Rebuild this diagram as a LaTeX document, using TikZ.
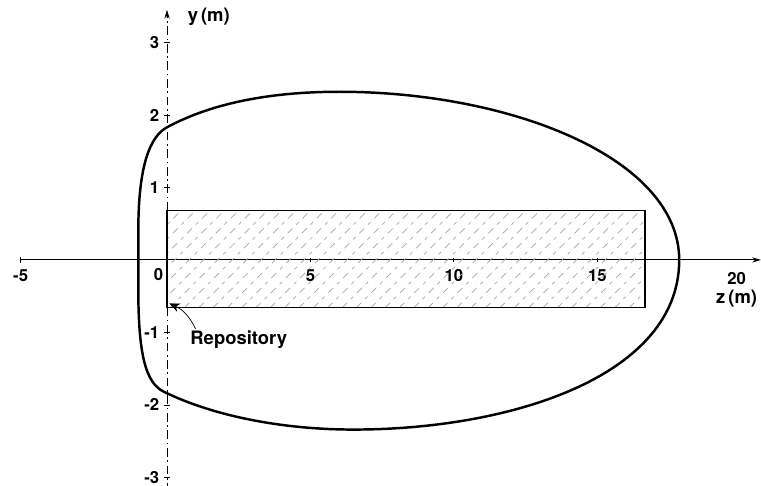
\documentclass[tikz,border=0pt]{standalone}
\usepackage{fontspec}
\setmainfont{TeX Gyre Heros}
\usetikzlibrary{arrows.meta, positioning}

\begin{document}
\begin{tikzpicture}[x=0.574cm, y=1.45cm,
  ticklbl/.style={font=\bfseries\fontsize{9.5}{10}\selectfont, inner sep=1pt},
  axislbl/.style={font=\bfseries\fontsize{10.5}{11}\selectfont, inner sep=1pt},
  hatch/.style={gray!70, thin, dash pattern=on 4pt off 3pt on 2pt off 3pt}]
  \useasboundingbox (-5.82,-3.117) rectangle (20.70,3.586);
  % Axes
  \coordinate (zstart) at (-5.1,0);
  \coordinate (zend) at (20.7,0);
  \coordinate (ybot) at (0,-3.2);
  \coordinate (ytop) at (0,3.45);
  \draw[semithick, -{Stealth[length=5pt,width=3pt]}] (zstart) -- (zend);
  \draw[semithick] (zstart) ++(0,-0.04) -- ++(0,0.08);
  \draw[thin, dash pattern=on 5pt off 2pt on 1pt off 2pt, -{Stealth[length=5pt,width=3pt]}] (ybot) -- (ytop);
  % Ticks and labels on z
  \foreach \z in {5,10,15} {
    \draw[semithick] (\z,-0.03) -- (\z,0.03);
  }
  \node[ticklbl] (zm5) at (-5.1,-0.22) {-5};
  \node[ticklbl] (z0) at (-0.3,-0.2) {0};
  \node[ticklbl] (z5) at (5,-0.22) {5};
  \node[ticklbl] (z10) at (10,-0.22) {10};
  \node[ticklbl] (z15) at (15,-0.22) {15};
  \node[ticklbl] (z20) at (19.85,-0.25) {20};
  \node[axislbl, below=1pt of z20] (zname) {z\,(m)};
  % Ticks and labels on y
  \foreach \y in {-3,-2,-1,1,2,3} {
    \draw[thin] (-0.12,\y) -- (0.12,\y);
    \node[ticklbl, left] (y\y) at (-0.2,\y) {\y};
  }
  \node[axislbl, right] (yname) at (0.65,3.35) {y\,(m)};
  % Repository
  \begin{scope}
    \clip (0,-0.66) rectangle (16.66,0.68);
    \foreach \s in {-3.4,-2.9,...,16.6} {
      \draw[hatch] (\s,-0.66) -- ++(3.39,1.34);
    }
  \end{scope}
  \draw[thick] (0,-0.66) rectangle (16.66,0.68);
  \coordinate (corner) at (0.08,-0.6);
  \node[axislbl] (repo) at (2.5,-1.1) {Repository};
  \draw[thin, -{Stealth[length=6pt,width=5pt]}] (repo.north west) ++(0.25,0) to[bend right=20] (corner);
  % Contour
  \draw[line width=1.4pt] (0,1.83)
    .. controls (1.5,2.15) and (3.5,2.32) .. (6,2.32)
    .. controls (12,2.32) and (17.85,1.4) .. (17.85,0)
    .. controls (17.85,-1.6) and (12,-2.34) .. (6.5,-2.34)
    .. controls (4,-2.34) and (1.6,-2.15) .. (-0.1,-1.82)
    .. controls (-0.75,-1.7) and (-1,-1.3) .. (-1,-0.4)
    -- (-1,0.4)
    .. controls (-1,1.3) and (-0.6,1.7) .. cycle;
\end{tikzpicture}
\end{document}
